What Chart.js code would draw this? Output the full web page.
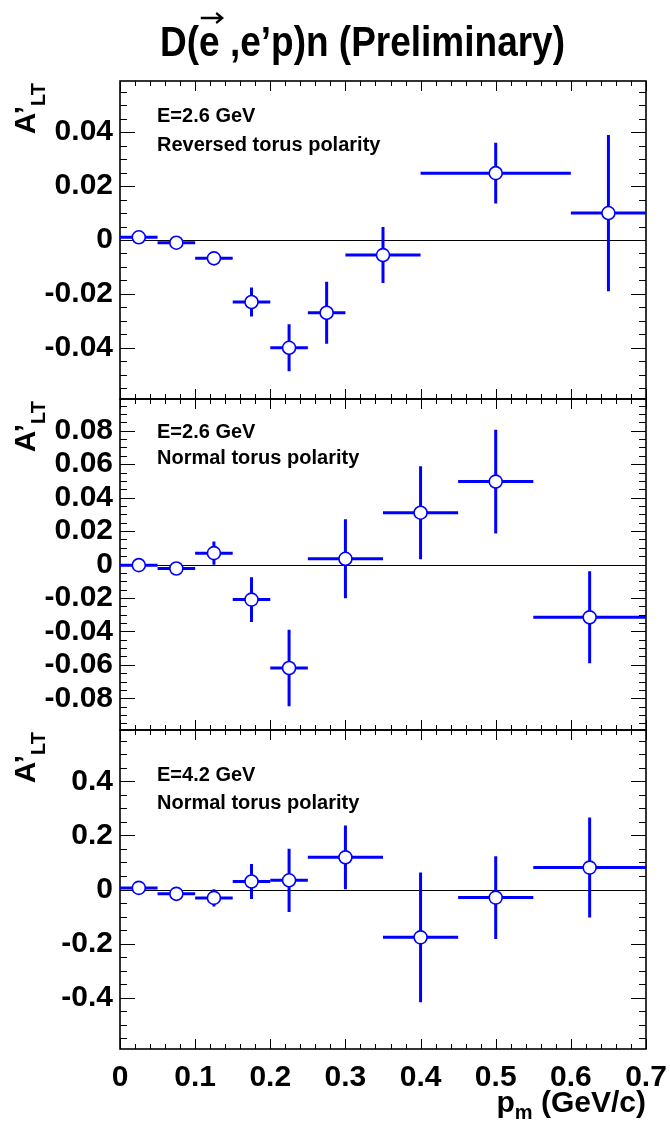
<!DOCTYPE html>
<html>
<head>
<meta charset="utf-8">
<script src="https://cdn.jsdelivr.net/npm/chart.js@4/dist/chart.umd.min.js"></script>
<style>
  html, body { margin: 0; padding: 0; background: #fff; }
  #wrap { position: relative; width: 670px; height: 1126px; overflow: hidden; }
  canvas { position: absolute; left: 0; }
</style>
</head>
<body>
<div id="wrap">
  <canvas id="c1" width="670" height="412" style="top:0px"></canvas>
  <canvas id="c2" width="670" height="354" style="top:388px"></canvas>
  <canvas id="c3" width="670" height="408" style="top:718px"></canvas>
</div>
<script>
// bins (p_m, GeV/c) and half widths
const pm1 = [0.025, 0.075, 0.125, 0.175, 0.225, 0.275, 0.35, 0.5, 0.65];
const dpm1 = [0.025, 0.025, 0.025, 0.025, 0.025, 0.025, 0.05, 0.1, 0.05];
const pm23 = [0.025, 0.075, 0.125, 0.175, 0.225, 0.3, 0.4, 0.5, 0.625];
const dpm23 = [0.025, 0.025, 0.025, 0.025, 0.025, 0.05, 0.05, 0.05, 0.075];

// A'_LT, E=2.6 GeV reversed torus
const alt1 = [0.001, -0.001, -0.0068, -0.023, -0.040, -0.027, -0.0056, 0.0248, 0.010];
const err1 = [0.0015, 0.0015, 0.0017, 0.0054, 0.0087, 0.0115, 0.0104, 0.0113, 0.029];
// E=2.6 GeV normal torus
const alt2 = [-0.0004, -0.0024, 0.0068, -0.021, -0.0619, 0.0034, 0.031, 0.0496, -0.0316];
const err2 = [0.002, 0.002, 0.0069, 0.0134, 0.0229, 0.0236, 0.0278, 0.031, 0.0275];
// E=4.2 GeV normal torus
const alt3 = [0.006, -0.016, -0.031, 0.0295, 0.034, 0.119, -0.177, -0.03, 0.081];
const err3 = [0.01, 0.01, 0.032, 0.065, 0.117, 0.118, 0.24, 0.153, 0.185];

const xTicks = [0, 0.1, 0.2, 0.3, 0.4, 0.5, 0.6, 0.7];
const title = 'D(e ,e’p)n (Preliminary)';
const FONT = '"Liberation Sans", Arial, sans-serif';
const BLUE = '#0000ff';

// ROOT style frame: inward ticks on all four sides + zero line
const framePlugin = {
  id: 'frame',
  beforeDatasetsDraw(chart, args, opts) {
    const ctx = chart.ctx;
    const { left, right, top, bottom } = chart.chartArea;
    const xs = chart.scales.x, ys = chart.scales.y;
    ctx.save();
    ctx.strokeStyle = '#000';
    ctx.lineWidth = 1;
    // zero line
    const y0 = Math.round(ys.getPixelForValue(0)) + 0.5;
    ctx.beginPath(); ctx.moveTo(left, y0); ctx.lineTo(right, y0); ctx.stroke();
    // x ticks
    for (let i = 0; i <= 35; i++) {
      const px = Math.round(xs.getPixelForValue(i * 0.02)) + 0.5;
      const len = i % 5 === 0 ? 10 : 5;
      ctx.beginPath();
      ctx.moveTo(px, top); ctx.lineTo(px, top + len);
      ctx.moveTo(px, bottom); ctx.lineTo(px, bottom - len);
      ctx.stroke();
    }
    // y ticks
    const n = Math.floor(ys.max / opts.minor + 1e-6);
    for (let i = -n; i <= n; i++) {
      const py = Math.round(ys.getPixelForValue(i * opts.minor)) + 0.5;
      const len = i % opts.per === 0 ? 15 : 7;
      ctx.beginPath();
      ctx.moveTo(left, py); ctx.lineTo(left + len, py);
      ctx.moveTo(right, py); ctx.lineTo(right - len, py);
      ctx.stroke();
    }
    ctx.lineWidth = 1.6;
    ctx.strokeRect(left, top, right - left, bottom - top);

    // error bars
    ctx.beginPath();
    ctx.rect(left, top, right - left, bottom - top);
    ctx.clip();
    ctx.strokeStyle = BLUE;
    ctx.lineWidth = 3;
    const d = chart.data.datasets[0];
    d.data.forEach((p, i) => {
      const px = xs.getPixelForValue(p.x), py = ys.getPixelForValue(p.y);
      ctx.beginPath();
      ctx.moveTo(xs.getPixelForValue(p.x - d.xErr[i]), py);
      ctx.lineTo(xs.getPixelForValue(p.x + d.xErr[i]), py);
      ctx.moveTo(px, ys.getPixelForValue(p.y - d.yErr[i]));
      ctx.lineTo(px, ys.getPixelForValue(p.y + d.yErr[i]));
      ctx.stroke();
    });
    ctx.restore();
  },
  afterDraw(chart, args, opts) {
    const ctx = chart.ctx;
    const top = chart.chartArea.top;
    ctx.save();
    ctx.fillStyle = '#000';
    // panel labels
    ctx.font = 'bold 20px ' + FONT;
    ctx.textAlign = 'left';
    ctx.textBaseline = 'alphabetic';
    ctx.fillText(opts.lines[0], 157, opts.lineY[0]);
    ctx.fillText(opts.lines[1], 157, opts.lineY[1]);
    // y title A'_LT, rotated
    ctx.save();
    ctx.translate(35, top);
    ctx.rotate(-Math.PI / 2);
    ctx.textAlign = 'right';
    ctx.font = 'bold 20px ' + FONT;
    const wSub = ctx.measureText('LT').width;
    ctx.fillText('LT', -2, 10);
    ctx.font = 'bold 30px ' + FONT;
    ctx.fillText('A’', -2 - wSub, 0);
    ctx.restore();

    if (opts.title) {
      // condensed bold title, 405px wide
      ctx.save();
      ctx.font = 'bold 43px ' + FONT;
      ctx.textAlign = 'left';
      const w = ctx.measureText(title).width;
      const sx = 405 / w;
      ctx.translate(160, 56);
      ctx.scale(sx, 1);
      ctx.fillText(title, 0, 0);
      // arrow over the e
      const ex = ctx.measureText('D(').width;
      const ew = ctx.measureText('e').width;
      const ay = -38;
      ctx.strokeStyle = '#000';
      ctx.lineWidth = 2.5;
      ctx.beginPath();
      ctx.moveTo(ex + 2, ay); ctx.lineTo(ex + ew + 3, ay);
      ctx.moveTo(ex + ew - 4, ay - 5); ctx.lineTo(ex + ew + 3, ay); ctx.lineTo(ex + ew - 4, ay + 5);
      ctx.stroke();
      ctx.restore();
    }
    if (opts.xTitle) {
      const base = chart.height - 14;
      ctx.textAlign = 'left';
      ctx.font = 'bold 30px ' + FONT;
      const wp = ctx.measureText('p').width;
      const wr = ctx.measureText(' (GeV/c)').width;
      ctx.font = 'bold 20px ' + FONT;
      const wm = ctx.measureText('m').width;
      let x = chart.chartArea.right - (wp + wm + wr);
      ctx.font = 'bold 30px ' + FONT;
      ctx.fillText('p', x, base);
      ctx.font = 'bold 20px ' + FONT;
      ctx.fillText('m', x + wp, base + 7);
      ctx.font = 'bold 30px ' + FONT;
      ctx.fillText(' (GeV/c)', x + wp + wm, base);
    }
    ctx.restore();
  }
};

function fmt(dec) {
  return v => Math.abs(v) < 1e-9 ? '0' : v.toFixed(dec);
}

function makePanel(id, xs, dxs, ys, dys, range, step, minor, dec, pad, frameOpts, showX) {
  const ctx = document.getElementById(id).getContext('2d');
  return new Chart(ctx, {
    type: 'scatter',
    data: {
      datasets: [{
        data: xs.map((x, i) => ({ x: x, y: ys[i] })),
        xErr: dxs,
        yErr: dys,
        pointStyle: 'circle',
        pointRadius: 6.5,
        pointBorderWidth: 1.6,
        pointBorderColor: BLUE,
        pointBackgroundColor: '#fff',
        showLine: false
      }]
    },
    options: {
      responsive: false,
      animation: false,
      events: [],
      layout: { padding: { left: 0, right: 24, top: pad[0], bottom: pad[1] } },
      plugins: {
        legend: { display: false },
        tooltip: { enabled: false },
        frame: Object.assign({ minor: minor, per: Math.round(step / minor) }, frameOpts)
      },
      scales: {
        x: {
          type: 'linear',
          min: 0, max: 0.7,
          display: showX,
          grid: { display: false },
          border: { display: false },
          afterBuildTicks: s => { s.ticks = xTicks.map(v => ({ value: v })); },
          afterFit: s => { s.height = showX ? 77 : 0; s.paddingLeft = 0; s.paddingRight = 0; },
          ticks: {
            autoSkip: false, maxRotation: 0, padding: 3, color: '#000',
            font: { family: FONT, size: 30, weight: 'bold' },
            callback: fmt(1)
          }
        },
        y: {
          type: 'linear',
          min: -range, max: range,
          grid: { display: false, drawTicks: false },
          border: { display: false },
          afterFit: s => { s.width = 120; s.paddingTop = 0; s.paddingBottom = 0; },
          ticks: {
            stepSize: step, includeBounds: false, autoSkip: false,
            padding: 7, color: '#000',
            font: { family: FONT, size: 30, weight: 'bold' },
            callback: fmt(dec)
          }
        }
      }
    },
    plugins: [framePlugin]
  });
}

makePanel('c1', pm1, dpm1, alt1, err1, 0.059, 0.02, 0.005, 2, [81, 13],
  { lines: ['E=2.6 GeV', 'Reversed torus polarity'], lineY: [122, 151], title: true }, false);
makePanel('c2', pm23, dpm23, alt2, err2, 0.099, 0.02, 0.005, 2, [11, 12],
  { lines: ['E=2.6 GeV', 'Normal torus polarity'], lineY: [50, 76] }, false);
makePanel('c3', pm23, dpm23, alt3, err3, 0.59, 0.2, 0.05, 1, [12, 0],
  { lines: ['E=4.2 GeV', 'Normal torus polarity'], lineY: [63, 91], xTitle: true }, true);
</script>
</body>
</html>
